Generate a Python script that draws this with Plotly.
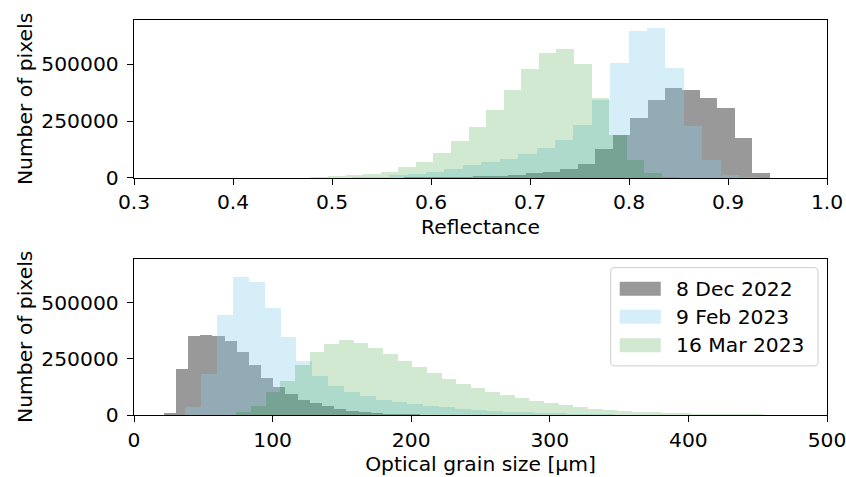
import numpy as np
import plotly.graph_objects as go
from plotly.subplots import make_subplots

# ---------------- data ----------------
series_names = ["8 Dec 2022", "9 Feb 2023", "16 Mar 2023"]

# Reflectance histograms (first bin edge, bin width, counts per bin)
refl_gray_start, refl_gray_width = 0.5548, 0.0176
refl_gray_counts = [1000, 1800, 2800, 4000, 5500, 7500, 10000, 14000, 20000, 28000,
                    38000, 60000, 127000, 190000, 264000, 345000, 397000, 386000,
                    353000, 308000, 176000, 23000]

refl_blue_start, refl_blue_width = 0.502, 0.0186
refl_blue_counts = [1500, 3000, 6000, 11000, 18000, 28000, 40000, 55000, 70000, 85000,
                    105000, 130000, 168000, 234000, 345000, 507000, 645000, 662000,
                    485000, 230000, 80000, 13000, 2000]

refl_green_start, refl_green_width = 0.4605, 0.01775
refl_green_counts = [1500, 4000, 8000, 12000, 18000, 28000, 46000, 69000, 109000, 161000,
                     224000, 301000, 386000, 478000, 549000, 569000, 500000, 350000,
                     190000, 80000, 22000, 5000]

# Optical grain size histograms (first bin edge, bin width, counts per bin)
ogs_gray_start, ogs_gray_width = 21.3, 8.8
ogs_gray_counts = [10000, 208000, 351000, 357000, 351000, 330000, 283000, 222000, 167000,
                   125000, 95000, 70000, 55000, 40000, 30000, 21000, 15000, 11000, 8000,
                   6000, 4500, 3500, 2500, 2000, 1500, 1000, 700]

ogs_blue_start, ogs_blue_width = 37.0, 11.45
ogs_blue_counts = [37000, 184000, 445000, 617000, 595000, 479000, 348000, 241000, 174000,
                   129000, 104000, 85000, 70000, 59000, 50000, 42000, 36000, 30000, 25000,
                   21000, 17000, 14000, 11000, 9000, 7000, 5500, 4300, 3300, 2500, 1800,
                   1300, 900, 600]

ogs_green_start, ogs_green_width = 73.9, 10.57
ogs_green_counts = [15000, 40000, 105000, 152000, 222000, 283000, 318000, 333000, 323000,
                    300000, 274000, 244000, 214000, 187000, 162000, 140000, 122000, 104000,
                    89000, 77000, 66000, 54000, 45000, 37000, 30000, 25000, 21000, 16500,
                    13000, 11000, 9500, 8000, 7000, 6000, 5000, 4200, 3200, 1200]

refl_ticks = [0.3, 0.4, 0.5, 0.6, 0.7, 0.8, 0.9, 1.0]
refl_tick_labels = ["0.3", "0.4", "0.5", "0.6", "0.7", "0.8", "0.9", "1.0"]
ogs_ticks = [0, 100, 200, 300, 400, 500]
ogs_tick_labels = ["0", "100", "200", "300", "400", "500"]
count_ticks = [0, 250000, 500000]
count_tick_labels = ["0", "250000", "500000"]

# ---------------- styles ----------------
colors = ["rgba(128,128,128,0.8)", "rgba(135,206,235,0.35)", "rgba(0,128,0,0.18)"]
FONT = "DejaVu Sans"

# the page is photographed slightly zoomed out; lay out in target pixels times K
K = 858 / 846
W, H = 858, 484
FS = 20 * K

fig = make_subplots(rows=2, cols=1, vertical_spacing=0.0)


def add_hist(start, width, counts, color, name, row):
    counts = np.asarray(counts, dtype=float)
    centers = start + width * (np.arange(len(counts)) + 0.5)
    fig.add_trace(go.Bar(x=centers, y=counts, width=width, name=name,
                         marker=dict(color=color, line=dict(width=0)),
                         showlegend=False, legendgroup=name),
                  row=row, col=1)


top = [(refl_gray_start, refl_gray_width, refl_gray_counts),
       (refl_blue_start, refl_blue_width, refl_blue_counts),
       (refl_green_start, refl_green_width, refl_green_counts)]
bot = [(ogs_gray_start, ogs_gray_width, ogs_gray_counts),
       (ogs_blue_start, ogs_blue_width, ogs_blue_counts),
       (ogs_green_start, ogs_green_width, ogs_green_counts)]

for i, (s, w, c) in enumerate(top):
    add_hist(s, w, c, colors[i], series_names[i], 1)
for i, (s, w, c) in enumerate(bot):
    add_hist(s, w, c, colors[i], series_names[i], 2)

ymax = 1.05 * max(max(refl_gray_counts), max(refl_blue_counts), max(refl_green_counts),
                  max(ogs_gray_counts), max(ogs_blue_counts), max(ogs_green_counts))

# target-pixel geometry (846x477 frame)
L, R, T, B = 132, 824, 20, 414
ml, mr, mt, mb = L * K, W - R * K, T * K, H - B * K
top_low = (B - 177.5) / (B - T)
bot_high = (B - 258) / (B - T)


def px_x(p):
    return (p - L) / (R - L)


def px_y(p):
    return (B - p) / (B - T)


axis_common = dict(showline=True, linecolor="black", linewidth=1.3, mirror=True,
                   ticks="outside", ticklen=6 * K, tickwidth=1.2, tickcolor="black",
                   showgrid=False, zeroline=False,
                   tickfont=dict(family=FONT, size=FS, color="black"))

# legend drawn matplotlib-style: rounded box, wide swatches, labels
shapes = []
annotations = []
lx0, lx1, ly0, ly1, r = 608, 815, 267, 365, 4
x0, x1, y0, y1 = px_x(lx0), px_x(lx1), px_y(ly0), px_y(ly1)
rx, ry = r / (R - L), r / (B - T)
path = (f"M{x0 + rx},{y0} L{x1 - rx},{y0} Q{x1},{y0} {x1},{y0 - ry} "
        f"L{x1},{y1 + ry} Q{x1},{y1} {x1 - rx},{y1} L{x0 + rx},{y1} "
        f"Q{x0},{y1} {x0},{y1 + ry} L{x0},{y0 - ry} Q{x0},{y0} {x0 + rx},{y0} Z")
shapes.append(dict(type="path", xref="paper", yref="paper", path=path,
                   fillcolor="rgba(255,255,255,0.8)", line=dict(color="#cccccc", width=1)))
row_centers = [288, 316, 344.5]
for i, name in enumerate(series_names):
    yc = row_centers[i]
    shapes.append(dict(type="rect", xref="paper", yref="paper",
                       x0=px_x(617), x1=px_x(658), y0=px_y(yc + 7), y1=px_y(yc - 7),
                       fillcolor=colors[i], line=dict(width=0)))
    annotations.append(dict(xref="paper", yref="paper", x=px_x(671), y=px_y(yc),
                            xanchor="left", yanchor="middle", showarrow=False, text=name,
                            font=dict(family=FONT, size=FS, color="black")))

yaxis_extra = dict(ticklabelstandoff=4)

fig.update_layout(
    width=W, height=H,
    margin=dict(l=ml, r=mr, t=mt, b=mb),
    barmode="overlay", bargap=0,
    plot_bgcolor="white", paper_bgcolor="white",
    font=dict(family=FONT, size=FS, color="black"),
    showlegend=False,
    shapes=shapes, annotations=annotations,
    xaxis=dict(domain=[0, 1], range=[0.3, 1.0], tickvals=refl_ticks, ticktext=refl_tick_labels,
               title=dict(text="Reflectance", font=dict(family=FONT, size=FS), standoff=6),
               **axis_common),
    yaxis=dict(domain=[top_low, 1], range=[0, ymax], tickvals=count_ticks,
               ticktext=count_tick_labels,
               title=dict(text="Number of pixels", font=dict(family=FONT, size=FS), standoff=3),
               **axis_common, **yaxis_extra),
    xaxis2=dict(domain=[0, 1], range=[0, 500], tickvals=ogs_ticks, ticktext=ogs_tick_labels,
                title=dict(text="Optical grain size [µm]", font=dict(family=FONT, size=FS), standoff=6),
                **axis_common),
    yaxis2=dict(domain=[0, bot_high], range=[0, ymax], tickvals=count_ticks,
                ticktext=count_tick_labels,
                title=dict(text="Number of pixels", font=dict(family=FONT, size=FS), standoff=3),
                **axis_common, **yaxis_extra),
)

fig.write_html("out.html")
